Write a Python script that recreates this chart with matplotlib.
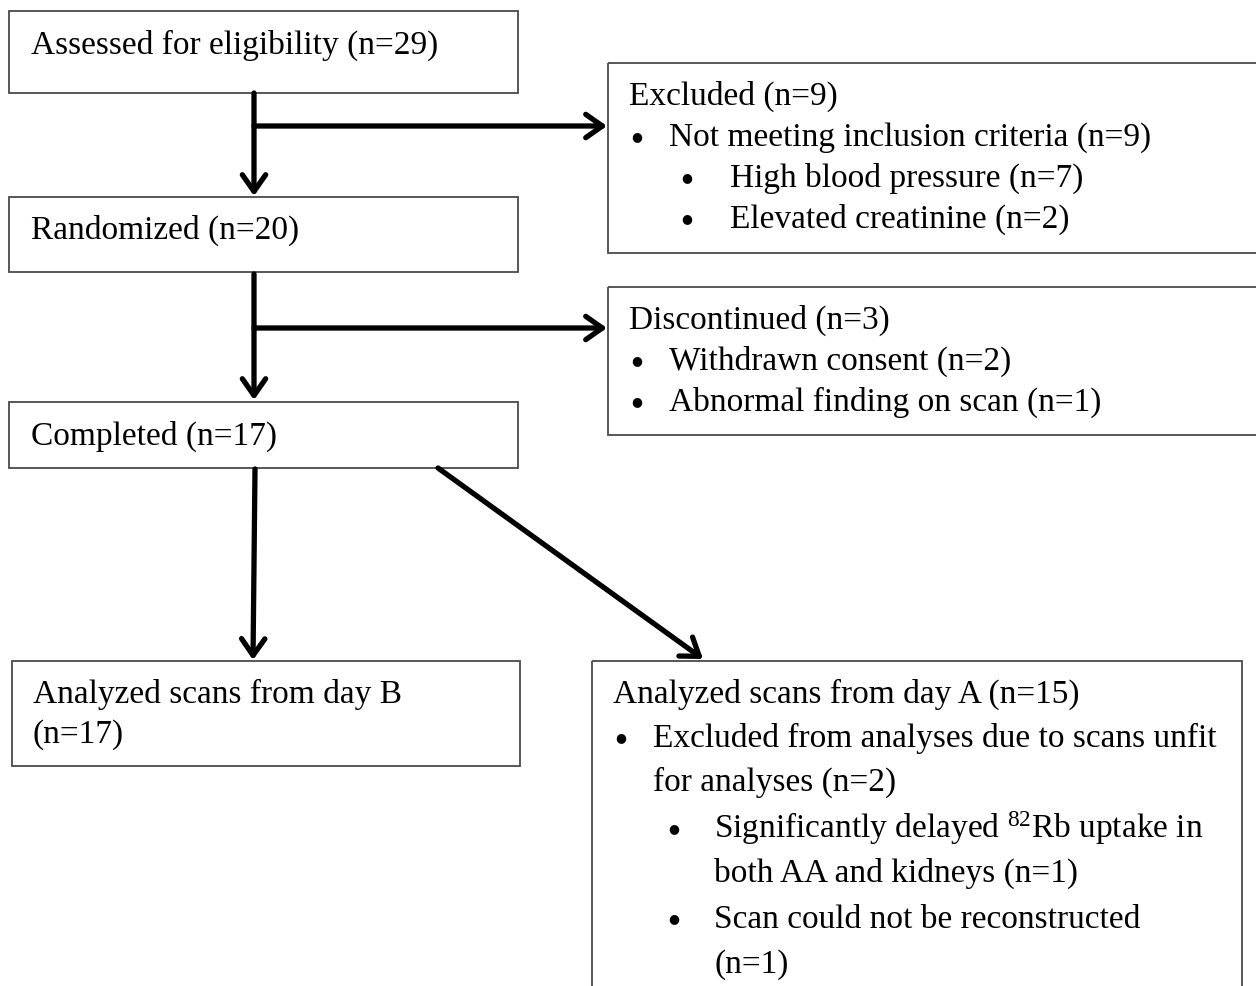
import matplotlib
matplotlib.use("Agg")
import matplotlib.pyplot as plt
from matplotlib.patches import Rectangle

plt.rcParams['font.family'] = ['Liberation Serif', 'DejaVu Serif']
plt.rcParams['mathtext.fontset'] = 'custom'
plt.rcParams['mathtext.rm'] = 'Liberation Serif'

# ---- data ----
n_assessed = 29
n_randomized = 20
n_completed = 17
n_excluded = 9
n_high_bp = 7
n_creatinine = 2
n_discontinued = 3
n_withdrawn = 2
n_abnormal = 1
n_day_b = 17
n_day_a = 15
n_unfit = 2
n_delayed = 1
n_not_recon = 1

# boxes: (x0, y0, x1, y1) in pixel-like layout coords (y downward)
boxes = {
    'assessed': (9, 11, 518, 93),
    'randomized': (9, 197, 518, 272),
    'completed': (9, 402, 518, 468),
    'excluded': (608, 63, 1262, 253),
    'discontinued': (608, 287, 1262, 435),
    'dayB': (12, 661, 520, 766),
    'dayA': (592, 661, 1242, 995),
}

FS = 24
W, H = 1256, 986
fig = plt.figure(figsize=(W / 100, H / 100), dpi=100)
ax = fig.add_axes([0, 0, 1, 1])
ax.set_xlim(0, W)
ax.set_ylim(H, 0)
ax.axis('off')

for (x0, y0, x1, y1) in boxes.values():
    ax.add_patch(Rectangle((x0, y0), x1 - x0, y1 - y0, fill=False,
                           edgecolor='#4a4a4a', lw=1.3))

def t(x, y, s, size=FS):
    ax.text(x, y, s, fontsize=size, va='baseline', ha='left', color='black')

def bullet(x, y):
    ax.text(x, y - 9, '\u25CF', fontsize=9, va='center', ha='center',
            color='black', family='DejaVu Sans')

# left column
t(31, 54, f'Assessed for eligibility (n={n_assessed})')
t(31, 239, f'Randomized (n={n_randomized})')
t(31, 445, f'Completed (n={n_completed})')

# excluded box
t(629, 105, f'Excluded (n={n_excluded})')
bullet(637, 146); t(669, 146, f'Not meeting inclusion criteria (n={n_excluded})')
bullet(687, 187); t(730, 187, f'High blood pressure (n={n_high_bp})')
bullet(687, 228); t(730, 228, f'Elevated creatinine (n={n_creatinine})')

# discontinued box
t(629, 329, f'Discontinued (n={n_discontinued})')
bullet(637, 370); t(669, 370, f'Withdrawn consent (n={n_withdrawn})')
bullet(637, 411); t(669, 411, f'Abnormal finding on scan (n={n_abnormal})')

# day B
t(33, 703, 'Analyzed scans from day B')
t(33, 743, f'(n={n_day_b})')

# day A
t(613, 703, f'Analyzed scans from day A (n={n_day_a})')
bullet(621, 747); t(653, 747, 'Excluded from analyses due to scans unfit')
t(653, 791, f'for analyses (n={n_unfit})')
bullet(674, 838); t(714, 838, r'Significantly delayed $\mathregular{^{82}}$Rb uptake in')
t(714, 882, f'both AA and kidneys (n={n_delayed})')
bullet(674, 928); t(714, 928, 'Scan could not be reconstructed')
t(714, 973, f'(n={n_not_recon})')

# arrows
LW = 3.8
astyle = '->,head_length=0.6,head_width=0.42'

def arrow(x0, y0, x1, y1):
    ax.annotate('', xy=(x1, y1), xytext=(x0, y0),
                arrowprops=dict(arrowstyle=astyle, lw=LW, color='black',
                                shrinkA=0, shrinkB=0, mutation_scale=20,
                                capstyle='round', joinstyle='round'))

arrow(254, 93, 254, 196)
arrow(254, 126, 607, 126)
arrow(254, 274, 254, 400)
arrow(254, 328, 607, 328)
arrow(255, 469, 253, 660)
arrow(438, 468, 703, 659)

fig.savefig('out.png', dpi=100)
